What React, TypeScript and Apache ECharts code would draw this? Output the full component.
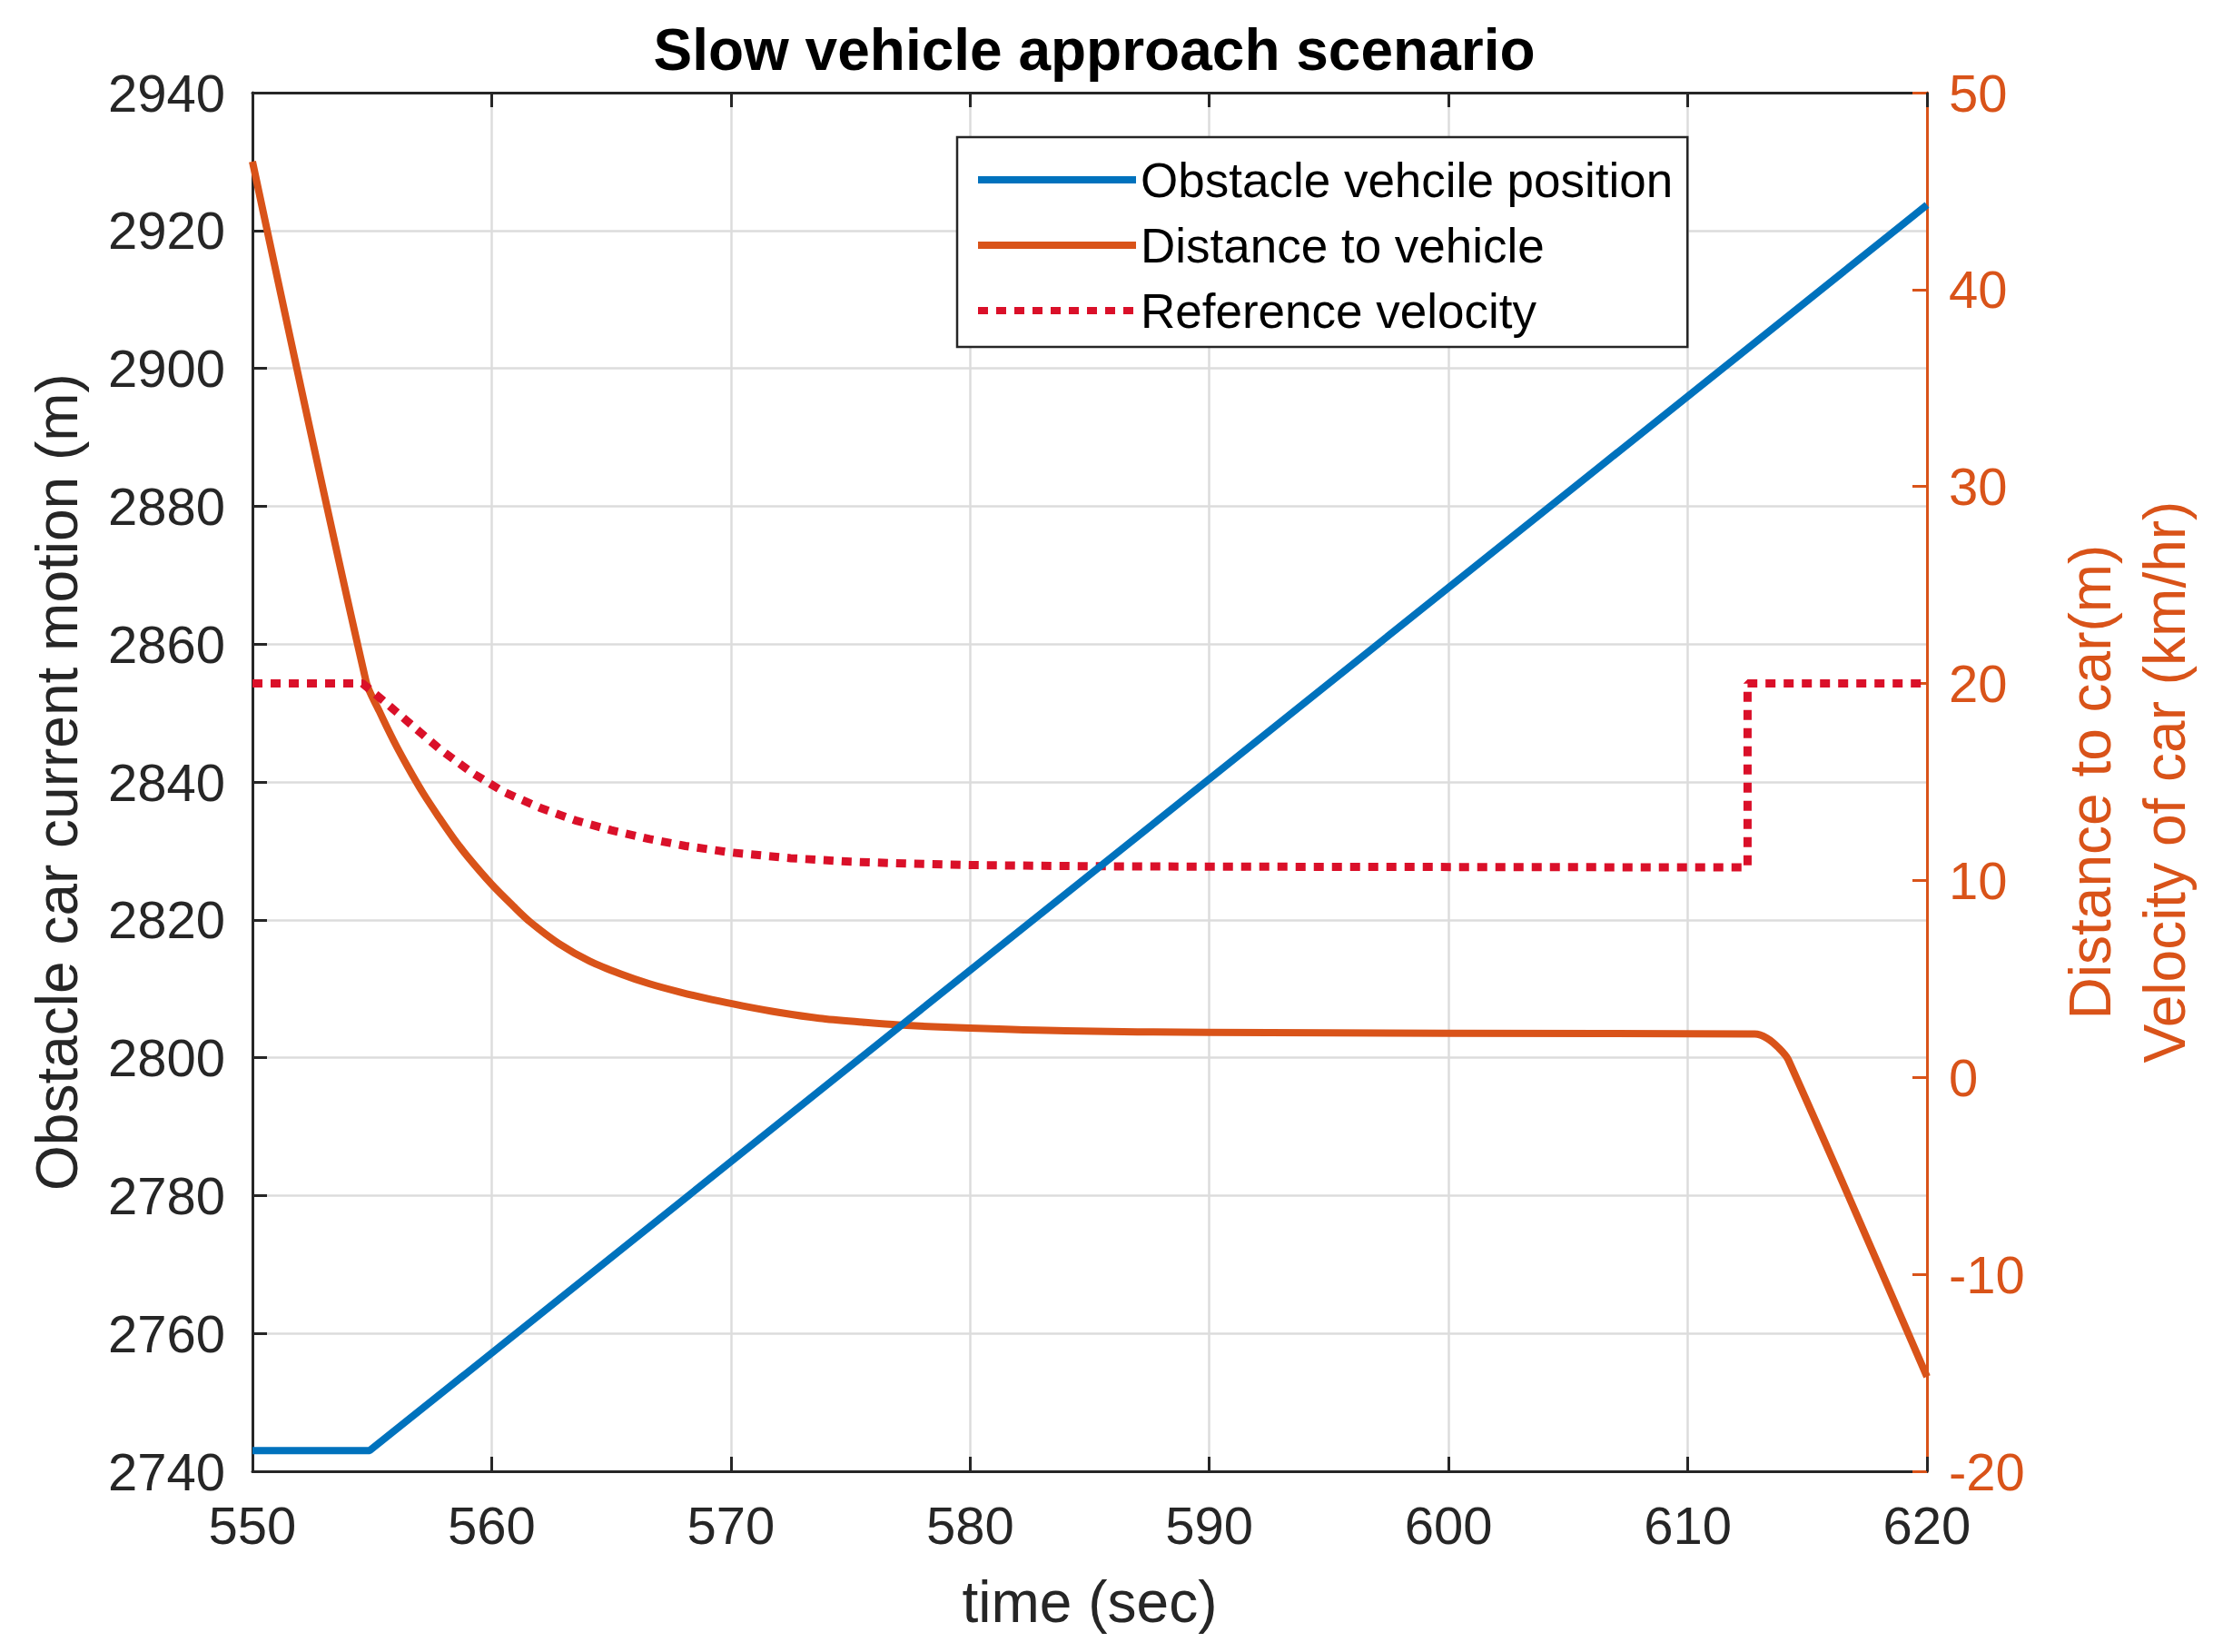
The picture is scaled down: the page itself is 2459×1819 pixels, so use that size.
import { useEffect, useRef } from 'react';
import * as echarts from 'echarts';

// obstacle vehicle position (left axis, m)
const blueTime = [550, 554.9, 620];
const blueValue = [2743, 2743, 2923.7];

// distance to vehicle (right axis, m)
const orangeTime = [
  550, 554.75, 555.3, 555.9, 556.5, 557.15, 557.8, 558.4, 559, 560, 560.9, 561.6, 562.8, 564.1, 565.4,
  566.6, 567.9, 569.2, 570.5, 572, 573.7, 575.5, 577, 580, 584, 590, 600, 612.8, 613.3, 613.8, 614.2, 620,
];
const orangeValue = [
  46.5, 20.1, 18.6, 17.1, 15.75, 14.4, 13.2, 12.15, 11.2, 9.8, 8.7, 7.9, 6.8, 5.9, 5.25,
  4.75, 4.32, 3.95, 3.63, 3.3, 3.0, 2.8, 2.66, 2.5, 2.36, 2.28, 2.24, 2.2, 2.0, 1.5, 0.9, -15.2,
];

// reference velocity (right axis, km/hr)
const redTime = [
  550, 554.6, 555.4, 556.6, 557.8, 559.2, 560.5, 562, 563.5, 565, 566.6, 568.1, 570, 572.5, 575, 577.5,
  580, 585, 590, 612.5, 612.5, 620,
];
const redValue = [
  20, 20, 19.2, 17.95, 16.7, 15.45, 14.5, 13.7, 13.05, 12.55, 12.1, 11.75, 11.42, 11.13, 10.95, 10.85,
  10.78, 10.72, 10.7, 10.66, 20, 20,
];

const seriesNames = ['Obstacle vehcile position', 'Distance to vehicle', 'Reference velocity'];

const zip = (xs: number[], ys: number[]) => xs.map((x, i) => [x, ys[i]]);

const dark = '#262626';
const blue = '#0072BD';
const orange = '#D95319';
const red = '#DA1029';
const font = 'Liberation Sans, Arial, Helvetica, sans-serif';

export default function App() {
  const chartRef = useRef<HTMLDivElement>(null);

  useEffect(() => {
    if (!chartRef.current) return;
    const chart = echarts.init(chartRef.current, undefined, { renderer: 'svg' });

    const axisLine = { show: true, onZero: false, lineStyle: { color: dark, width: 3 } };
    const axisTick = { show: true, inside: true, length: 16, lineStyle: { color: dark, width: 3 } };
    const plain = (v: number) => String(v);

    chart.setOption({
      animation: false,
      backgroundColor: '#fff',
      textStyle: { fontFamily: font },
      title: {
        text: 'Slow vehicle approach scenario',
        left: 1200,
        top: 18,
        textAlign: 'center',
        textStyle: { fontSize: 64, fontWeight: 'bold', color: '#000', fontFamily: font },
      },
      grid: { left: 278, right: 337, top: 102, bottom: 199 },
      legend: {
        orient: 'vertical',
        left: 1054,
        top: 151,
        itemWidth: 174,
        itemHeight: 14,
        itemGap: 12,
        padding: [17, 16, 10, 19],
        borderColor: dark,
        borderWidth: 2.5,
        backgroundColor: '#fff',
        itemStyle: { opacity: 0 },
        lineStyle: { width: 8 },
        textStyle: { fontSize: 53, color: '#000', lineHeight: 60, fontFamily: font },
        data: seriesNames,
      },
      xAxis: [
        {
          type: 'value',
          min: 550,
          max: 620,
          interval: 10,
          position: 'bottom',
          axisLine,
          axisTick,
          axisLabel: { fontSize: 58, color: dark, margin: 30, fontFamily: font, formatter: plain },
          splitLine: { show: true, lineStyle: { color: '#dcdcdc', width: 2.5 } },
          name: 'time (sec)',
          nameLocation: 'middle',
          nameGap: 112,
          nameTextStyle: { fontSize: 64, color: dark, fontFamily: font },
        },
        {
          type: 'value',
          min: 550,
          max: 620,
          interval: 10,
          position: 'top',
          axisLine,
          axisTick,
          axisLabel: { show: false },
          splitLine: { show: false },
        },
      ],
      yAxis: [
        {
          type: 'value',
          min: 2740,
          max: 2940,
          interval: 20,
          position: 'left',
          axisLine,
          axisTick,
          axisLabel: { fontSize: 58, color: dark, margin: 30, fontFamily: font, formatter: plain },
          splitLine: { show: true, lineStyle: { color: '#dcdcdc', width: 2.5 } },
          name: 'Obstacle car current motion (m)',
          nameLocation: 'middle',
          nameGap: 183,
          nameRotate: 90,
          nameTextStyle: { fontSize: 64, color: dark, fontFamily: font },
        },
        {
          type: 'value',
          min: -20,
          max: 50,
          interval: 10,
          position: 'right',
          axisLine: { show: true, onZero: false, lineStyle: { color: orange, width: 3 } },
          axisTick: { show: true, inside: true, length: 16, lineStyle: { color: orange, width: 3 } },
          axisLabel: { fontSize: 58, color: orange, margin: 24, fontFamily: font, formatter: plain },
          splitLine: { show: false },
          name: 'Distance to car(m)\nVelocity of car (km/hr)',
          nameLocation: 'middle',
          nameGap: 139,
          nameRotate: 90,
          nameTextStyle: { fontSize: 64, color: orange, lineHeight: 82, align: 'center', fontFamily: font },
        },
      ],
      series: [
        {
          name: seriesNames[0],
          type: 'line',
          xAxisIndex: 0,
          yAxisIndex: 0,
          data: zip(blueTime, blueValue),
          symbol: 'none',
          showSymbol: false,
          color: blue,
          lineStyle: { color: blue, width: 8 },
          z: 4,
        },
        {
          name: seriesNames[1],
          type: 'line',
          xAxisIndex: 0,
          yAxisIndex: 1,
          data: zip(orangeTime, orangeValue),
          symbol: 'none',
          showSymbol: false,
          smooth: 0.3,
          color: orange,
          lineStyle: { color: orange, width: 8, join: 'round' },
          z: 3,
        },
        {
          name: seriesNames[2],
          type: 'line',
          xAxisIndex: 0,
          yAxisIndex: 1,
          data: zip(redTime, redValue),
          symbol: 'none',
          showSymbol: false,
          color: red,
          lineStyle: { color: red, width: 9, type: [11, 9] },
          z: 3,
        },
      ],
    });

    return () => {
      chart.dispose();
    };
  }, []);

  return <div ref={chartRef} style={{ position: 'absolute', left: 0, top: 0, width: 2459, height: 1819 }} />;
}
